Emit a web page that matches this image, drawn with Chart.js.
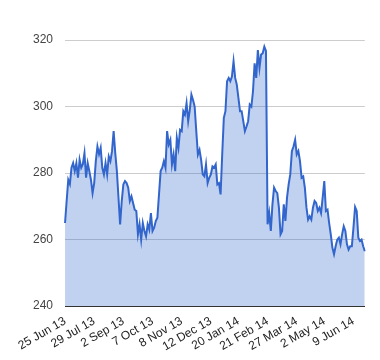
<!DOCTYPE html>
<html>
<head>
<meta charset="utf-8">
<script src="https://cdn.jsdelivr.net/npm/chart.js@4"></script>
<style>
  body { margin: 0; background: #fff; }
  #wrap { width: 380px; height: 360px; }
</style>
</head>
<body>
<div id="wrap"><canvas id="myChart"></canvas></div>
<script>
// closing prices
var prices = [
  265, 271.6, 278, 276.7, 281.6, 283, 280.6, 283, 278.6, 284, 281.6, 282.7, 286, 278.6, 283, 280.6, 278, 274, 277, 283.6,
  288, 285.7, 287.6, 281.6, 279.6, 283, 279.6, 285, 283.6, 286.6, 292.6, 286, 280.6, 272.6, 264.6, 271.6, 276.6,
  277.6, 277, 275.6, 271.6, 273, 271, 269, 268.6, 261.6, 264.6, 260, 265, 262.6, 261, 264.6, 263, 268, 262.6, 263.6,
  265.6, 266.6, 273.6, 280.6, 281.6, 283.6, 281.6, 292.6, 288.6, 290, 282.6, 285.6, 280.6, 290.6, 287.6, 293, 292.6, 298.6,
  297.6, 301, 295.6, 299, 303.6, 302, 300, 292.6, 285.6, 287, 284, 279.6, 279, 282.6, 277, 278.6, 279.6, 282, 281.6,
  282.6, 276.6, 277, 273.6, 285.6, 296.6, 298.6, 307.6, 308.6, 307.6, 309, 313.6, 308.6, 306.6, 302.6, 298.6, 298.6, 295.6,
  292.6, 294, 295.6, 300.6, 300, 304.6, 313, 308.6, 317, 311.6, 315.6, 316, 318, 316.7,
  264.6, 268, 262.6, 270.6, 275.6, 274.6, 274, 269.6, 261.6, 262.6, 270.6, 265.6, 272.6, 276.6, 279.6, 286.6, 288, 290,
  285.6, 286.6, 283.6, 278.6, 279, 275.6,
  269.6, 266, 267, 266, 269.6, 271.6, 271, 268.6, 269.6, 268, 272.6, 277.6, 268.6, 269, 265, 261.6, 257.6, 255.6, 258,
  260, 260.6, 258.6, 261.6, 264, 262.6, 258.6, 257, 258, 258, 263.6, 269.8, 268.6, 260.6, 259.6, 260, 258, 256.5
];

// date labels and the point each one sits on
var tickLabels = ['25 Jun 13', '29 Jul 13', '2 Sep 13', '7 Oct 13', '8 Nov 13', '12 Dec 13',
                  '20 Jan 14', '21 Feb 14', '27 Mar 14', '2 May 14', '9 Jun 14'];
var tickIndex = [0, 18, 36, 54, 72, 90, 107, 125, 143, 160, 178];

var yTicks = [240, 260, 280, 300, 320];

function makeLabels() {
  var labels = [];
  for (var i = 0; i < prices.length; i++) {
    var k = tickIndex.indexOf(i);
    labels.push(k >= 0 ? tickLabels[k] : '');
  }
  return labels;
}

var ctx = document.getElementById('myChart');
var myChart = new Chart(ctx, {
  type: 'line',
  data: {
    labels: makeLabels(),
    datasets: [{
      data: prices,
      borderColor: '#3366cc',
      borderWidth: 2,
      backgroundColor: 'rgba(51,102,204,0.3)',
      fill: 'start',
      pointRadius: 0,
      tension: 0
    }]
  },
  options: {
    responsive: true,
    maintainAspectRatio: false,
    animation: false,
    layout: { padding: { left: 21, right: 12, top: 40, bottom: -2 } },
    plugins: { legend: { display: false }, tooltip: { enabled: false } },
    scales: {
      x: {
        grid: { display: false, drawTicks: false },
        border: { color: '#333', width: 1 },
        ticks: {
          autoSkip: false,
          minRotation: 30,
          maxRotation: 30,
          padding: 8,
          color: '#222',
          font: { family: 'Arial, "Liberation Sans"', size: 12 }
        }
      },
      y: {
        min: 240,
        max: 320,
        afterBuildTicks: function(axis) {
          axis.ticks = yTicks.map(function(v) { return { value: v }; });
        },
        grid: { color: '#cccccc', drawTicks: false },
        border: { display: false },
        ticks: {
          padding: 12,
          color: '#444',
          font: { family: 'Arial, "Liberation Sans"', size: 12 }
        }
      }
    }
  }
});
</script>
</body>
</html>
